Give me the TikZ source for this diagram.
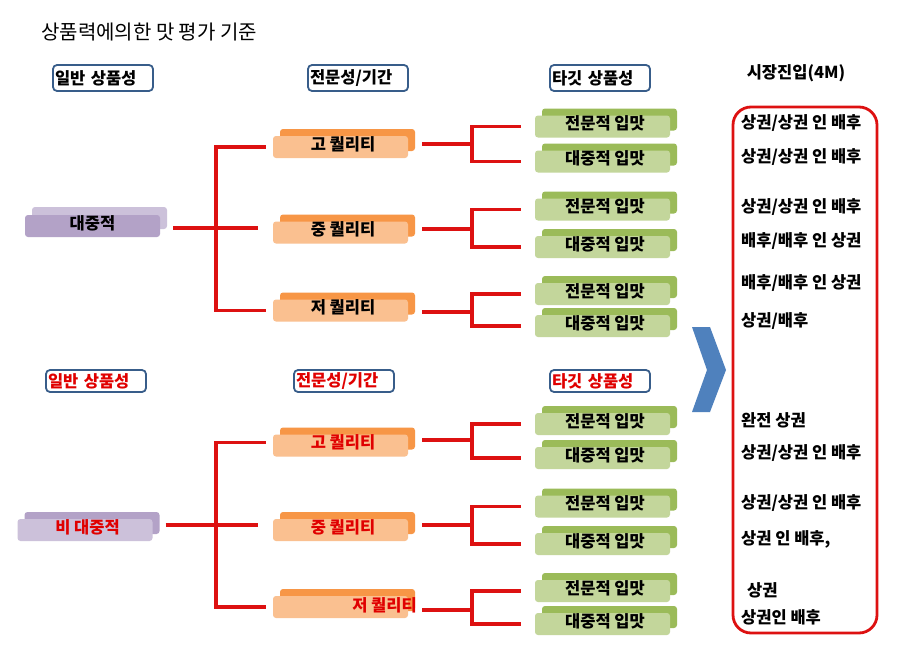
\documentclass[tikz,border=0pt]{standalone}
\usepackage{fontspec}
\setmainfont{Noto Sans CJK KR}
\usetikzlibrary{shadows}
\definecolor{redl}{HTML}{DD1111}
\definecolor{redt}{HTML}{E00000}
\definecolor{orB}{HTML}{F79646}
\definecolor{orF}{HTML}{FAC090}
\definecolor{grB}{HTML}{9BBB59}
\definecolor{grF}{HTML}{C3D69B}
\definecolor{puD}{HTML}{B3A2C7}
\definecolor{puL}{HTML}{CCC1DA}
\definecolor{hdrc}{HTML}{385D8A}
\definecolor{chev}{HTML}{4F81BD}
\tikzset{
  lbl/.style={font=\fontsize{16.5}{19}\selectfont\bfseries},
  tone/.style={lbl, rounded corners=3pt, minimum width=135pt, minimum height=22pt,
    inner sep=0pt, text height=10pt, text depth=4pt},
  orbox/.style={tone, fill=orF, general shadow={shadow xshift=7pt, shadow yshift=7pt, fill=orB}},
  grbox/.style={tone, fill=grF, general shadow={shadow xshift=7pt, shadow yshift=7pt, fill=grB}},
  pubox1/.style={tone, fill=puD, general shadow={shadow xshift=7pt, shadow yshift=8pt, fill=puL}},
  pubox2/.style={tone, fill=puL, general shadow={shadow xshift=7pt, shadow yshift=7pt, fill=puD}},
  hdr/.style={lbl, draw=hdrc, line width=1.8pt, rounded corners=4pt, fill=white,
    text width=96pt, inner xsep=2pt, inner ysep=0pt, align=left},
  redline/.style={draw=redl, line width=3.4pt},
  rt/.style={lbl, anchor=west, inner sep=0pt},
}
\begin{document}
\begin{tikzpicture}[x=1pt,y=-1pt]
\useasboundingbox[fill=white] (0,0) rectangle (900,669);

% title
\node[anchor=west, inner sep=0pt, font=\fontsize{20}{23}\selectfont] (title) at (41,32) {상품력에의한 맛 평가 기준};

% headers (top)
\node[hdr, minimum height=26pt] (h1) at (103,78) {일반 상품성};
\node[hdr, minimum height=26pt] (h2) at (358,78) {전문성/기간};
\node[hdr, minimum height=26pt] (h3) at (600,78) {타깃 상품성};
\node[lbl, inner sep=0pt] (h4) at (796,73) {시장진입(4M)};

% headers (bottom)
\node[hdr, minimum height=22pt, text=redt] (h5) at (96,381) {일반 상품성};
\node[hdr, minimum height=22pt, text=redt] (h6) at (344,381) {전문성/기간};
\node[hdr, minimum height=22pt, text=redt] (h7) at (600,381) {타깃 상품성};

% purple
\node[pubox1] (P1) at (92.5,226) {대중적};
\node[pubox2, text=redt] (P2) at (85,530) {\hspace*{5pt}비 대중적};

% orange
\node[orbox] (O1) at (340.5,147) {\hspace*{5pt}고 퀄리티};
\node[orbox] (O2) at (340.5,232.5) {\hspace*{5pt}중 퀄리티};
\node[orbox] (O3) at (340.5,310.5) {\hspace*{5pt}저 퀄리티};
\node[orbox, text=redt] (O4) at (340.5,445.5) {\hspace*{5pt}고 퀄리티};
\node[orbox, text=redt] (O5) at (340.5,530) {\hspace*{5pt}중 퀄리티};
\node[orbox, label={[lbl, text=redt, inner sep=0pt, text height=10pt, text depth=4pt, xshift=44pt, yshift=-1pt]center:저 퀄리티}] (O6) at (340.5,607) {};

% green
\node[grbox] (G1a) at (602.5,126.5) {\hspace*{5pt}전문적 입맛};
\node[grbox] (G1b) at (602.5,161.5) {\hspace*{5pt}대중적 입맛};
\node[grbox] (G2a) at (602.5,209.5) {\hspace*{5pt}전문적 입맛};
\node[grbox] (G2b) at (602.5,247) {\hspace*{5pt}대중적 입맛};
\node[grbox] (G3a) at (602.5,294) {\hspace*{5pt}전문적 입맛};
\node[grbox] (G3b) at (602.5,326) {\hspace*{5pt}대중적 입맛};
\node[grbox] (G4a) at (602.5,424) {\hspace*{5pt}전문적 입맛};
\node[grbox] (G4b) at (602.5,458) {\hspace*{5pt}대중적 입맛};
\node[grbox] (G5a) at (602.5,506.5) {\hspace*{5pt}전문적 입맛};
\node[grbox] (G5b) at (602.5,544) {\hspace*{5pt}대중적 입맛};
\node[grbox] (G6a) at (602.5,591) {\hspace*{5pt}전문적 입맛};
\node[grbox] (G6b) at (602.5,624) {\hspace*{5pt}대중적 입맛};

% left trees
\coordinate (b1) at (216,228);
\coordinate (b2) at (216,525);
\draw[redline] ([xshift=13pt,yshift=-2pt]P1.east) -- ([xshift=-15pt,yshift=-2pt]P1.east -| O2.west);
\draw[redline] ([xshift=-7pt]O1.west) -| (b1) |- ([xshift=-7pt]O3.west);
\draw[redline] ([xshift=13pt,yshift=5pt]P2.east) -- ([xshift=-15pt,yshift=5pt]P2.east -| O5.west);
\draw[redline] ([xshift=-7pt,yshift=3pt]O4.west) -| (b2) |- ([xshift=-7pt]O6.west);

% right trees
\foreach \o/\ga/\gb/\yy in {O1/G1a/G1b/144, O2/G2a/G2b/229, O3/G3a/G3b/312, O4/G4a/G4b/440, O5/G5a/G5b/525, O6/G6a/G6b/610}{
  \coordinate (c\o) at (472,\yy);
  \draw[redline] ([xshift=14pt]\o.east |- c\o) -- (c\o);
  \draw[redline] ([xshift=-14pt]\ga.west) -| (c\o) |- ([xshift=-14pt]\gb.west);
}

% chevron
\fill[chev] (692,327) -- (710,327) -- (726,370) -- (710,412) -- (692,412) -- (707,370) -- cycle;

% market box
\node[draw=redl, line width=2.8pt, rounded corners=18pt, minimum width=144pt, minimum height=526pt] (mkt) at (805,370) {};

% right texts
\node[rt] (r1) at (741,123) {상권/상권 인 배후};
\node[rt] (r2) at (741,157) {상권/상권 인 배후};
\node[rt] (r3) at (741,207) {상권/상권 인 배후};
\node[rt] (r4) at (741,241) {배후/배후 인 상권};
\node[rt] (r5) at (741,283) {배후/배후 인 상권};
\node[rt] (r6) at (741,321) {상권/배후};
\node[rt] (r7) at (741,420) {완전 상권};
\node[rt] (r8) at (741,453) {상권/상권 인 배후};
\node[rt] (r9) at (741,503) {상권/상권 인 배후};
\node[rt] (r10) at (741,539) {상권 인 배후,};
\node[rt] (r11) at (747,590) {상권};
\node[rt] (r12) at (741,617) {상권인 배후};
\end{tikzpicture}
\end{document}
